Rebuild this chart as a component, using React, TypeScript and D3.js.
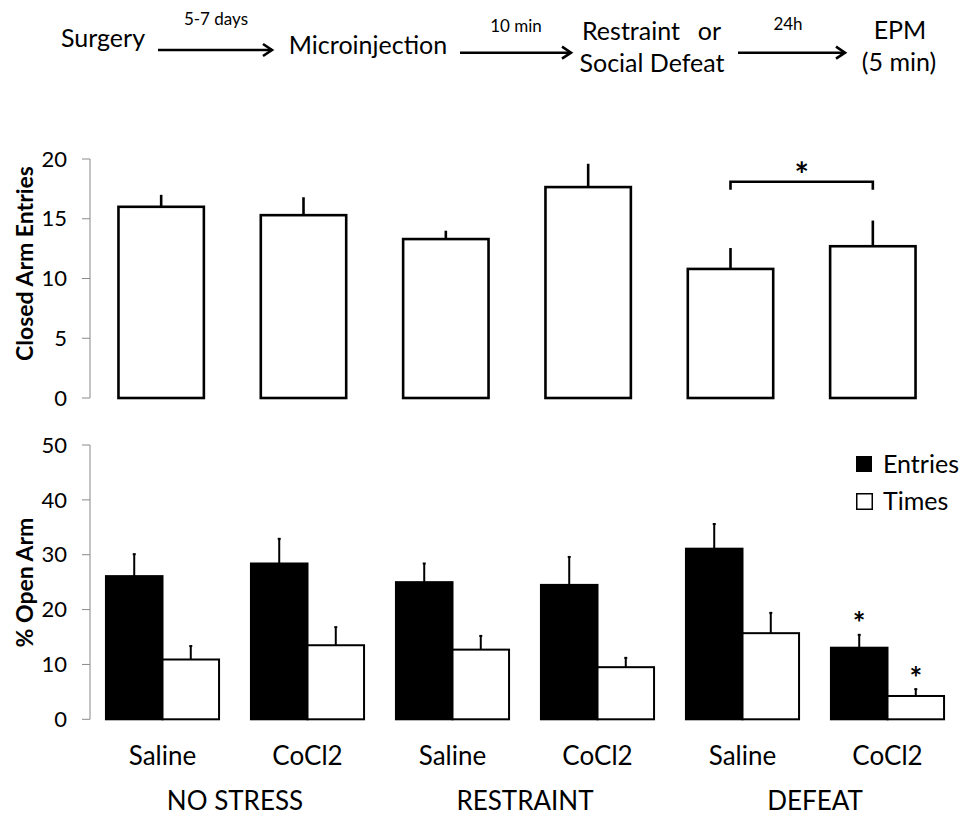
import React from "react";
import * as d3 from "d3";

const groups = ["NO STRESS", "RESTRAINT", "DEFEAT"];
const treatments = ["Saline", "CoCl2", "Saline", "CoCl2", "Saline", "CoCl2"];
const closedEntries = [16.0, 15.3, 13.3, 17.65, 10.8, 12.7];
const closedErr = [1.0, 1.5, 0.7, 1.95, 1.75, 2.15];
const openEntries = [26.1, 28.4, 25.0, 24.5, 31.1, 13.05];
const openEntriesErr = [4.0, 4.5, 3.4, 5.1, 4.5, 2.35];
const openTimes = [10.9, 13.5, 12.7, 9.5, 15.7, 4.25];
const openTimesErr = [2.45, 3.3, 2.5, 1.7, 3.7, 1.25];
const topTicks = [0, 5, 10, 15, 20];
const botTicks = [0, 10, 20, 30, 40, 50];
const series = ["Entries", "Times"];

const FONT = "Lato, 'Open Sans', sans-serif";

function Arrow({ x1, x2, y }: { x1: number; x2: number; y: number }) {
  return (
    <g stroke="#000" strokeWidth={2.6} fill="none">
      <line x1={x1} x2={x2} y1={y} y2={y} />
      <polyline points={`${x2 - 9},${y - 6} ${x2},${y} ${x2 - 9},${y + 6}`} strokeLinejoin="miter" />
    </g>
  );
}

// asterisk centred at (cx, cy)
function Star({ cx, cy, size }: { cx: number; cy: number; size: number }) {
  return (
    <text x={cx} y={cy + size * 0.56} textAnchor="middle" fontSize={size} fontWeight="bold">
      *
    </text>
  );
}

export default function App() {
  const idx = treatments.map((_, i) => String(i));
  const xTop = d3.scaleBand<string>().domain(idx).range([90, 944]).paddingInner(0.4).paddingOuter(0.2);
  const yTop = d3.scaleLinear().domain([0, 20]).range([398, 159]);
  const xBot = d3.scaleBand<string>().domain(idx).range([90, 960]).paddingInner(0.22).paddingOuter(0.11);
  const xSub = d3.scaleBand<string>().domain(series).range([0, xBot.bandwidth()]);
  const yBot = d3.scaleLinear().domain([0, 50]).range([719.3, 445]);

  const axisColor = "#8a8a8a";

  const b1 = (xTop("4") as number) + xTop.bandwidth() / 2;
  const b2 = (xTop("5") as number) + xTop.bandwidth() / 2;
  const bracketY = yTop(18.1);

  const gx5 = xBot("5") as number;
  const sw = xSub.bandwidth();
  const starEx = gx5 + (xSub("Entries") as number) + sw / 2;
  const starTx = gx5 + (xSub("Times") as number) + sw / 2;

  return (
    <svg width={960} height={818} style={{ position: "absolute", left: 0, top: 0, background: "#fff" }} fontFamily={FONT}>
      <rect width={960} height={818} fill="#fff" />
      {/* Flow diagram */}
      <g fill="#000">
        <text x={103} y={47} fontSize={25} textAnchor="middle">Surgery</text>
        <text x={216} y={25} fontSize={17} textAnchor="middle">5-7 days</text>
        <text x={368} y={54} fontSize={25} textAnchor="middle">Microinjection</text>
        <text x={516} y={31.5} fontSize={17} textAnchor="middle">10 min</text>
        <text x={582} y={39.5} fontSize={25} textAnchor="start">Restraint</text>
        <text x={721} y={39.5} fontSize={25} textAnchor="end">or</text>
        <text x={652} y={71.5} fontSize={25} textAnchor="middle">Social Defeat</text>
        <text x={788} y={29.5} fontSize={17} textAnchor="middle">24h</text>
        <text x={900} y={39} fontSize={25} textAnchor="middle">EPM</text>
        <text x={899} y={71} fontSize={25} textAnchor="middle">(5 min)</text>
      </g>
      <Arrow x1={158} x2={272} y={50} />
      <Arrow x1={460} x2={571} y={52.7} />
      <Arrow x1={738} x2={845} y={52.7} />

      {/* Top chart */}
      <g>
        <line x1={90} x2={90} y1={yTop(20)} y2={yTop(0)} stroke={axisColor} strokeWidth={1} />
        {topTicks.map((t) => (
          <g key={t}>
            <line x1={82} x2={90} y1={yTop(t)} y2={yTop(t)} stroke={axisColor} strokeWidth={1} />
            <text x={67} y={yTop(t)} dy="0.35em" textAnchor="end" fontSize={22} fill="#000">{t}</text>
          </g>
        ))}
        <text transform={`translate(25,${263.5}) rotate(-90)`} textAnchor="middle" dy="0.35em" fontSize={23} fontWeight="bold">
          Closed Arm Entries
        </text>
        {closedEntries.map((v, i) => {
          const x = xTop(String(i)) as number;
          const w = xTop.bandwidth();
          return (
            <g key={i}>
              <line x1={x + w / 2} x2={x + w / 2} y1={yTop(v)} y2={yTop(v + closedErr[i])} stroke="#000" strokeWidth={2.6} />
              <rect x={x} y={yTop(v)} width={w} height={yTop(0) - yTop(v)} fill="#fff" stroke="#000" strokeWidth={2.6} />
            </g>
          );
        })}
        <polyline points={`${b1},${bracketY + 8} ${b1},${bracketY} ${b2},${bracketY} ${b2},${bracketY + 8}`} fill="none" stroke="#000" strokeWidth={2.6} />
        <Star cx={(b1 + b2) / 2} cy={bracketY - 14} size={34} />
      </g>

      {/* Bottom chart */}
      <g>
        <line x1={90} x2={90} y1={yBot(50)} y2={yBot(0)} stroke={axisColor} strokeWidth={1} />
        {botTicks.map((t) => (
          <g key={t}>
            <line x1={82} x2={90} y1={yBot(t)} y2={yBot(t)} stroke={axisColor} strokeWidth={1} />
            <text x={67} y={yBot(t)} dy="0.35em" textAnchor="end" fontSize={22} fill="#000">{t}</text>
          </g>
        ))}
        <text transform={`translate(25,${582.5}) rotate(-90)`} textAnchor="middle" dy="0.35em" fontSize={23} fontWeight="bold">
          % Open Arm
        </text>
        {treatments.map((_, i) => {
          const gx = xBot(String(i)) as number;
          const vals = [
            { s: "Entries", v: openEntries[i], e: openEntriesErr[i], fill: "#000" },
            { s: "Times", v: openTimes[i], e: openTimesErr[i], fill: "#fff" },
          ];
          return (
            <g key={i}>
              {vals.map((d) => {
                const x = gx + (xSub(d.s) as number);
                const w = xSub.bandwidth();
                const cx = x + w / 2;
                return (
                  <g key={d.s}>
                    <line x1={cx} x2={cx} y1={yBot(d.v)} y2={yBot(d.v + d.e)} stroke="#000" strokeWidth={2} />
                    <line x1={cx - 1.5} x2={cx + 1.5} y1={yBot(d.v + d.e)} y2={yBot(d.v + d.e)} stroke="#000" strokeWidth={2} />
                    <rect x={x} y={yBot(d.v)} width={w} height={yBot(0) - yBot(d.v)} fill={d.fill} stroke="#000" strokeWidth={2} />
                  </g>
                );
              })}
            </g>
          );
        })}
        <Star cx={starEx} cy={yBot(openEntries[5] + openEntriesErr[5]) - 18} size={30} />
        <Star cx={starTx} cy={yBot(openTimes[5] + openTimesErr[5]) - 17} size={30} />
        {/* legend */}
        <rect x={856} y={456} width={16} height={16} fill="#000" />
        <text x={883} y={473} fontSize={25}>{series[0]}</text>
        <rect x={856.75} y={493.75} width={15.5} height={15.5} fill="#fff" stroke="#000" strokeWidth={1.5} />
        <text x={883} y={510} fontSize={25}>{series[1]}</text>
      </g>

      {/* X labels */}
      {treatments.map((t, i) => (
        <text key={i} x={(xBot(String(i)) as number) + xBot.bandwidth() / 2} y={765} textAnchor="middle" fontSize={26}>
          {t}
        </text>
      ))}
      {groups.map((g, k) => {
        const a = (xBot(String(2 * k)) as number) + xBot.bandwidth() / 2;
        const b = (xBot(String(2 * k + 1)) as number) + xBot.bandwidth() / 2;
        return (
          <text key={g} x={(a + b) / 2} y={810} textAnchor="middle" fontSize={26}>
            {g}
          </text>
        );
      })}
    </svg>
  );
}
